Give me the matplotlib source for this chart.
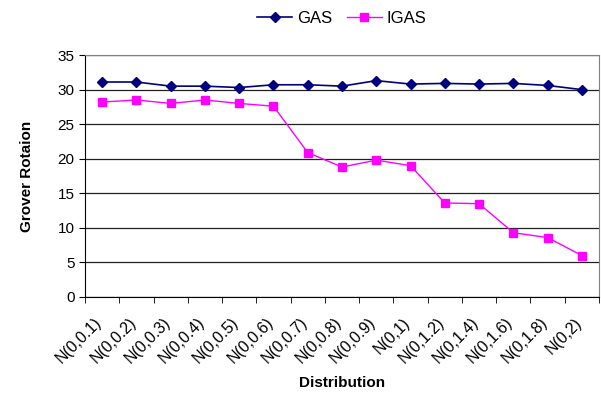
import numpy as np
import matplotlib.pyplot as plt
import matplotlib.transforms as mtransforms

plt.rcParams['font.family'] = ['Liberation Sans', 'DejaVu Sans']

# distributions tested and rotation counts for each algorithm
labels = ['N(0,0.1)', 'N(0,0.2)', 'N(0,0.3)', 'N(0,0.4)', 'N(0,0.5)', 'N(0,0.6)',
          'N(0,0.7)', 'N(0,0.8)', 'N(0,0.9)', 'N(0,1)', 'N(0,1.2)', 'N(0,1.4)',
          'N(0,1.6)', 'N(0,1.8)', 'N(0,2)']
gas = [31.1, 31.1, 30.5, 30.5, 30.3, 30.7, 30.7, 30.5, 31.3, 30.8, 30.9, 30.8, 30.9, 30.6, 30.0]
igas = [28.2, 28.5, 28.0, 28.5, 28.0, 27.6, 20.9, 18.8, 19.8, 19.0, 13.6, 13.5, 9.3, 8.6, 6.0]

fig = plt.figure(figsize=(6.01, 3.96), dpi=100)
ax = fig.add_axes([0.1414, 0.25, 0.8553, 0.611])

x = np.arange(len(labels))
ax.plot(x, gas, color='#000080', marker='D', markersize=5, linewidth=1.2, label='GAS')
ax.plot(x, igas, color='#FF00FF', marker='s', markersize=5.5, linewidth=1.0, label='IGAS')

ax.set_xlim(-0.5, len(labels) - 0.5)
ax.set_ylim(0, 35)
ax.set_yticks(range(0, 36, 5))
ax.yaxis.grid(True, color='#202020', linewidth=0.9)
ax.set_axisbelow(True)

# labels sit at category centres, tick marks at the boundaries
ax.set_xticks(x)
ax.set_xticklabels(labels, rotation=45, ha='right', rotation_mode='anchor', fontsize=11.5)
ax.tick_params(axis='x', which='major', length=0, pad=13)
shift = mtransforms.ScaledTranslation(-8 / 100, 0, fig.dpi_scale_trans)
for lbl in ax.get_xticklabels():
    lbl.set_transform(lbl.get_transform() + shift)
ax.set_xticks(np.arange(-0.5, len(labels)), minor=True)
ax.tick_params(axis='x', which='minor', length=4, direction='out')
ax.tick_params(axis='y', length=4, direction='out', labelsize=11)

for s in ['top', 'right']:
    ax.spines[s].set_color('#808080')
ax.spines['left'].set_color('black')
ax.spines['bottom'].set_color('black')

ax.set_xlabel('Distribution', fontsize=11, fontweight='bold', labelpad=7)
ax.set_ylabel('Grover Rotaion', fontsize=11, fontweight='bold', labelpad=17)

fig.legend(loc='upper center', bbox_to_anchor=(0.569, 1.01), ncol=2, frameon=False,
           fontsize=12, handlelength=2.1, handletextpad=0.3, columnspacing=0.85)

fig.savefig('out.png', dpi=100)
